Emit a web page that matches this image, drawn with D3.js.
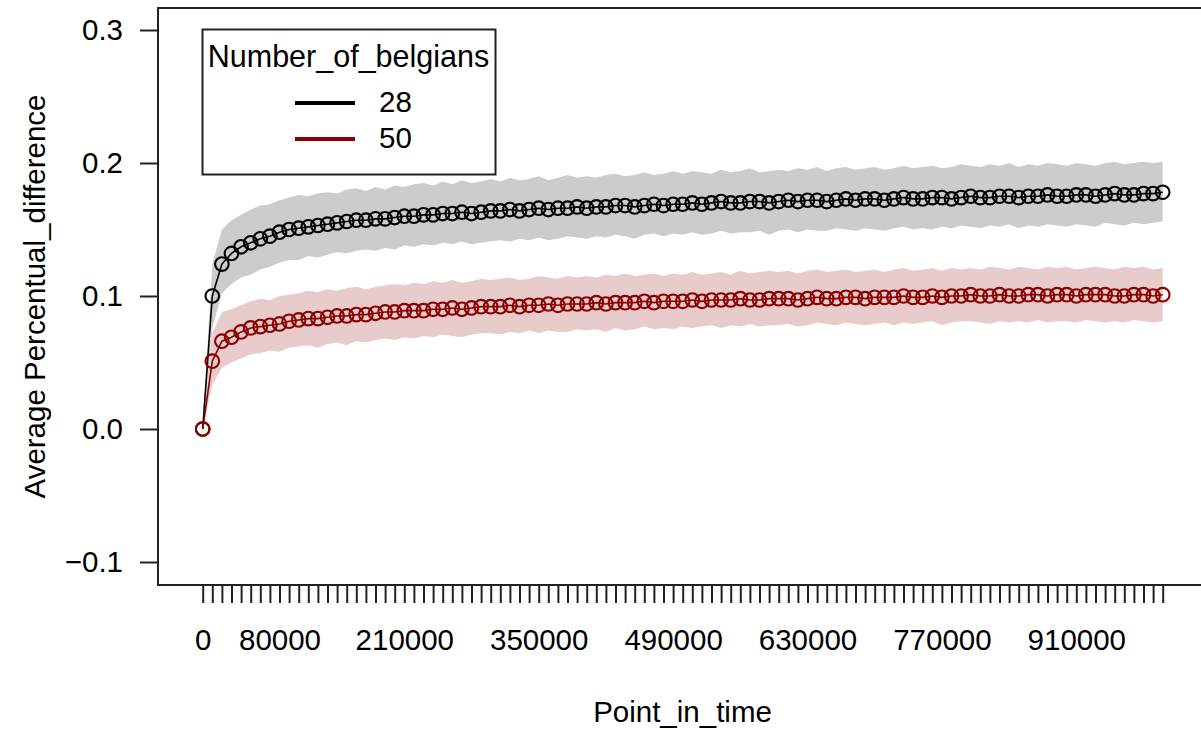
<!DOCTYPE html>
<html>
<head>
<meta charset="utf-8">
<script src="https://cdn.jsdelivr.net/npm/d3@7"></script>
<style>
  html, body { margin: 0; padding: 0; background: #ffffff; }
  svg { display: block; font-family: "Liberation Sans", Arial, sans-serif; }
</style>
</head>
<body>
<svg id="chart" width="1201" height="730"></svg>
<script>
// Points in time (x categories)
const pointInTime = [
  0, 10000, 20000, 30000, 40000, 50000, 60000, 70000, 80000, 90000,
  100000, 110000, 120000, 130000, 140000, 150000, 160000, 170000, 180000, 190000,
  200000, 210000, 220000, 230000, 240000, 250000, 260000, 270000, 280000, 290000,
  300000, 310000, 320000, 330000, 340000, 350000, 360000, 370000, 380000, 390000,
  400000, 410000, 420000, 430000, 440000, 450000, 460000, 470000, 480000, 490000,
  500000, 510000, 520000, 530000, 540000, 550000, 560000, 570000, 580000, 590000,
  600000, 610000, 620000, 630000, 640000, 650000, 660000, 670000, 680000, 690000,
  700000, 710000, 720000, 730000, 740000, 750000, 760000, 770000, 780000, 790000,
  800000, 810000, 820000, 830000, 840000, 850000, 860000, 870000, 880000, 890000,
  900000, 910000, 920000, 930000, 940000, 950000, 960000, 970000, 980000, 990000, 1000000
];

// Labels printed under the x axis
const xTickLabels = ["0", "80000", "210000", "350000", "490000", "630000", "770000", "910000"];
const yTicks = [-0.1, 0.0, 0.1, 0.2, 0.3];

// Number_of_belgians = 28
const mean28 = [
  0, 0.100, 0.124, 0.132, 0.137, 0.140, 0.143, 0.145, 0.148, 0.150,
  0.151, 0.152, 0.153, 0.154, 0.155, 0.156, 0.157, 0.157, 0.158, 0.158,
  0.159, 0.160, 0.160, 0.161, 0.161, 0.162, 0.162, 0.163, 0.162, 0.163,
  0.164, 0.164, 0.165, 0.164, 0.165, 0.166, 0.165, 0.166, 0.166, 0.167,
  0.166, 0.167, 0.167, 0.168, 0.168, 0.167, 0.168, 0.169, 0.168, 0.169,
  0.169, 0.170, 0.169, 0.170, 0.171, 0.170, 0.170, 0.171, 0.171, 0.170,
  0.171, 0.172, 0.171, 0.172, 0.172, 0.171, 0.172, 0.173, 0.172, 0.173,
  0.173, 0.172, 0.173, 0.174, 0.173, 0.173, 0.174, 0.174, 0.173, 0.174,
  0.175, 0.174, 0.174, 0.175, 0.175, 0.174, 0.175, 0.175, 0.176, 0.175,
  0.175, 0.176, 0.176, 0.175, 0.176, 0.177, 0.176, 0.176, 0.177, 0.177, 0.178
];
const upper28 = [
  0, 0.124, 0.150, 0.157, 0.161, 0.165, 0.168, 0.169, 0.172, 0.174,
  0.176, 0.175, 0.177, 0.178, 0.177, 0.180, 0.181, 0.179, 0.182, 0.180,
  0.183, 0.182, 0.184, 0.185, 0.183, 0.186, 0.184, 0.187, 0.185, 0.186,
  0.188, 0.186, 0.189, 0.187, 0.188, 0.190, 0.187, 0.189, 0.191, 0.189,
  0.190, 0.189, 0.191, 0.192, 0.190, 0.191, 0.193, 0.191, 0.192, 0.194,
  0.192, 0.194, 0.193, 0.192, 0.195, 0.193, 0.194, 0.196, 0.193, 0.194,
  0.195, 0.194, 0.196, 0.195, 0.197, 0.194, 0.196, 0.197, 0.195, 0.196,
  0.197, 0.195, 0.196, 0.198, 0.196, 0.197, 0.198, 0.196, 0.197, 0.199,
  0.198, 0.197, 0.199, 0.198, 0.200, 0.197, 0.199, 0.198, 0.200, 0.199,
  0.198, 0.200, 0.199, 0.198, 0.200, 0.201, 0.199, 0.200, 0.201, 0.200, 0.201
];
const lower28 = [
  0, 0.076, 0.102, 0.109, 0.114, 0.116, 0.120, 0.122, 0.125, 0.127,
  0.127, 0.130, 0.129, 0.131, 0.133, 0.132, 0.134, 0.135, 0.134, 0.136,
  0.135, 0.138, 0.137, 0.139, 0.138, 0.140, 0.139, 0.141, 0.139, 0.140,
  0.141, 0.142, 0.141, 0.143, 0.142, 0.144, 0.142, 0.143, 0.145, 0.144,
  0.143, 0.145, 0.144, 0.146, 0.145, 0.143, 0.146, 0.147, 0.145, 0.147,
  0.146, 0.148, 0.146, 0.147, 0.149, 0.147, 0.148, 0.148, 0.149, 0.146,
  0.149, 0.150, 0.148, 0.150, 0.149, 0.149, 0.151, 0.150, 0.149, 0.151,
  0.150, 0.149, 0.151, 0.152, 0.150, 0.151, 0.150, 0.152, 0.151, 0.153,
  0.152, 0.151, 0.153, 0.152, 0.154, 0.151, 0.153, 0.152, 0.154, 0.153,
  0.152, 0.154, 0.153, 0.152, 0.155, 0.154, 0.153, 0.155, 0.154, 0.155, 0.156
];

// Number_of_belgians = 50
const mean50 = [
  0, 0.051, 0.066, 0.069, 0.073, 0.076, 0.077, 0.078, 0.079, 0.081,
  0.082, 0.083, 0.083, 0.084, 0.085, 0.085, 0.086, 0.086, 0.087, 0.088,
  0.088, 0.089, 0.089, 0.089, 0.090, 0.090, 0.091, 0.090, 0.091, 0.092,
  0.092, 0.092, 0.093, 0.092, 0.093, 0.093, 0.094, 0.093, 0.094, 0.094,
  0.094, 0.095, 0.094, 0.095, 0.095, 0.095, 0.096, 0.095, 0.096, 0.096,
  0.096, 0.097, 0.096, 0.097, 0.097, 0.097, 0.098, 0.097, 0.097, 0.098,
  0.098, 0.098, 0.097, 0.098, 0.099, 0.098, 0.098, 0.099, 0.099, 0.098,
  0.099, 0.099, 0.099, 0.100, 0.099, 0.099, 0.100, 0.099, 0.100, 0.100,
  0.101, 0.100, 0.100, 0.101, 0.100, 0.100, 0.101, 0.101, 0.100, 0.101,
  0.101, 0.100, 0.101, 0.101, 0.101, 0.100, 0.100, 0.101, 0.101, 0.100, 0.101
];
const upper50 = [
  0, 0.072, 0.088, 0.090, 0.093, 0.096, 0.098, 0.097, 0.100, 0.101,
  0.102, 0.104, 0.103, 0.105, 0.104, 0.106, 0.107, 0.105, 0.107, 0.108,
  0.109, 0.108, 0.110, 0.109, 0.111, 0.110, 0.112, 0.110, 0.111, 0.113,
  0.112, 0.113, 0.114, 0.112, 0.113, 0.115, 0.114, 0.113, 0.115, 0.114,
  0.115, 0.114, 0.116, 0.115, 0.117, 0.115, 0.116, 0.117, 0.115, 0.117,
  0.116, 0.118, 0.116, 0.117, 0.118, 0.116, 0.119, 0.117, 0.118, 0.119,
  0.118, 0.119, 0.117, 0.119, 0.120, 0.118, 0.119, 0.120, 0.118, 0.119,
  0.120, 0.118, 0.120, 0.121, 0.119, 0.120, 0.121, 0.119, 0.121, 0.120,
  0.121, 0.120, 0.122, 0.121, 0.120, 0.122, 0.121, 0.120, 0.122, 0.121,
  0.122, 0.120, 0.121, 0.122, 0.121, 0.120, 0.122, 0.121, 0.122, 0.120, 0.121
];
const lower50 = [
  0, 0.033, 0.046, 0.050, 0.053, 0.056, 0.057, 0.059, 0.058, 0.061,
  0.062, 0.063, 0.061, 0.064, 0.065, 0.063, 0.066, 0.065, 0.067, 0.068,
  0.067, 0.069, 0.068, 0.070, 0.069, 0.071, 0.070, 0.069, 0.071, 0.072,
  0.072, 0.071, 0.073, 0.072, 0.074, 0.072, 0.074, 0.073, 0.073, 0.075,
  0.074, 0.075, 0.073, 0.076, 0.074, 0.075, 0.077, 0.075, 0.076, 0.075,
  0.077, 0.076, 0.077, 0.078, 0.076, 0.078, 0.077, 0.079, 0.077, 0.078,
  0.078, 0.079, 0.077, 0.078, 0.080, 0.079, 0.078, 0.080, 0.079, 0.078,
  0.079, 0.080, 0.078, 0.080, 0.079, 0.080, 0.081, 0.078, 0.080, 0.081,
  0.081, 0.080, 0.079, 0.081, 0.080, 0.081, 0.080, 0.082, 0.080, 0.081,
  0.081, 0.080, 0.082, 0.081, 0.080, 0.081, 0.080, 0.082, 0.081, 0.080, 0.081
];

const seriesNames = ["28", "50"];
const seriesColors = ["#000000", "#8b0000"];
const bandColors = ["rgba(0,0,0,0.2)", "rgba(139,0,0,0.2)"];

const series = [
  { name: seriesNames[0], mean: mean28, upper: upper28, lower: lower28, color: seriesColors[0], band: bandColors[0] },
  { name: seriesNames[1], mean: mean50, upper: upper50, lower: lower50, color: seriesColors[1], band: bandColors[1] }
];

const svg = d3.select("#chart");
const FONT = 29.5;

// Plot frame (right edge runs past the canvas)
const frame = { left: 158, top: 8, right: 1207, bottom: 585 };

const x = d3.scalePoint()
  .domain(pointInTime)
  .range([202.7, 1162.7]);

const y = d3.scaleLinear()
  .domain([-0.1, 0.3])
  .range([562, 30]);

// Confidence bands
const area = d3.area()
  .x((d, i) => x(pointInTime[i]))
  .y0(d => y(d[0]))
  .y1(d => y(d[1]));

series.forEach(s => {
  const rows = s.mean.map((m, i) => [s.lower[i], s.upper[i]]);
  svg.append("path")
    .datum(rows)
    .attr("d", area)
    .attr("fill", s.band)
    .attr("stroke", "none");
});

// Mean lines with open circle markers
const line = d3.line()
  .x((d, i) => x(pointInTime[i]))
  .y(d => y(d));

series.forEach(s => {
  svg.append("path")
    .datum(s.mean)
    .attr("d", line)
    .attr("fill", "none")
    .attr("stroke", s.color)
    .attr("stroke-width", 1.6);
  svg.append("g")
    .selectAll("circle")
    .data(s.mean)
    .join("circle")
    .attr("cx", (d, i) => x(pointInTime[i]))
    .attr("cy", d => y(d))
    .attr("r", 6.8)
    .attr("fill", "none")
    .attr("stroke", s.color)
    .attr("stroke-width", 2.1);
});

// Frame
svg.append("rect")
  .attr("x", frame.left)
  .attr("y", frame.top)
  .attr("width", frame.right - frame.left)
  .attr("height", frame.bottom - frame.top)
  .attr("fill", "none")
  .attr("stroke", "#222")
  .attr("stroke-width", 2);

// X axis: one tick per point in time, labels only where they fit
const xAxis = d3.axisBottom(x)
  .tickValues(pointInTime)
  .tickSize(18)
  .tickFormat(d => xTickLabels.includes(String(d)) ? String(d) : "");

const gx = svg.append("g")
  .attr("transform", `translate(0,${frame.bottom})`)
  .call(xAxis);
gx.select(".domain").remove();
gx.selectAll(".tick line").attr("stroke", "#222").attr("stroke-width", 2);
gx.selectAll(".tick text")
  .attr("font-family", "'Liberation Sans', Arial, sans-serif")
  .attr("font-size", FONT)
  .attr("fill", "#000")
  .attr("y", null)
  .attr("dy", null)
  .attr("transform", "translate(0,65)");

// Y axis
const yAxis = d3.axisLeft(y)
  .tickValues(yTicks)
  .tickSize(18)
  .tickPadding(17)
  .tickFormat(d3.format(".1f"));

const gy = svg.append("g")
  .attr("transform", `translate(${frame.left},0)`)
  .call(yAxis);
gy.select(".domain").remove();
gy.selectAll(".tick line").attr("stroke", "#222").attr("stroke-width", 2);
gy.selectAll(".tick text")
  .attr("font-family", "'Liberation Sans', Arial, sans-serif")
  .attr("font-size", FONT)
  .attr("fill", "#000");

// Axis titles
svg.append("text")
  .attr("x", (frame.left + frame.right) / 2)
  .attr("y", 722)
  .attr("text-anchor", "middle")
  .attr("font-size", FONT)
  .attr("fill", "#000")
  .text("Point_in_time");

svg.append("text")
  .attr("transform", `translate(45,${(frame.top + frame.bottom) / 2}) rotate(-90)`)
  .attr("text-anchor", "middle")
  .attr("font-size", FONT)
  .attr("fill", "#000")
  .text("Average Percentual_difference");

// Legend
const legend = svg.append("g");
legend.append("rect")
  .attr("x", 202.5).attr("y", 29.5)
  .attr("width", 293).attr("height", 145)
  .attr("fill", "#fff")
  .attr("stroke", "#222")
  .attr("stroke-width", 2);
legend.append("text")
  .attr("x", 348.5).attr("y", 67)
  .attr("text-anchor", "middle")
  .attr("font-size", 30.5)
  .attr("fill", "#000")
  .text("Number_of_belgians");

const legendRows = [103, 139];
series.forEach((s, i) => {
  legend.append("line")
    .attr("x1", 295).attr("x2", 355)
    .attr("y1", legendRows[i]).attr("y2", legendRows[i])
    .attr("stroke", s.color)
    .attr("stroke-width", 4);
  legend.append("text")
    .attr("x", 379).attr("y", legendRows[i] + 9)
    .attr("font-size", FONT)
    .attr("fill", "#000")
    .text(s.name);
});
</script>
</body>
</html>
